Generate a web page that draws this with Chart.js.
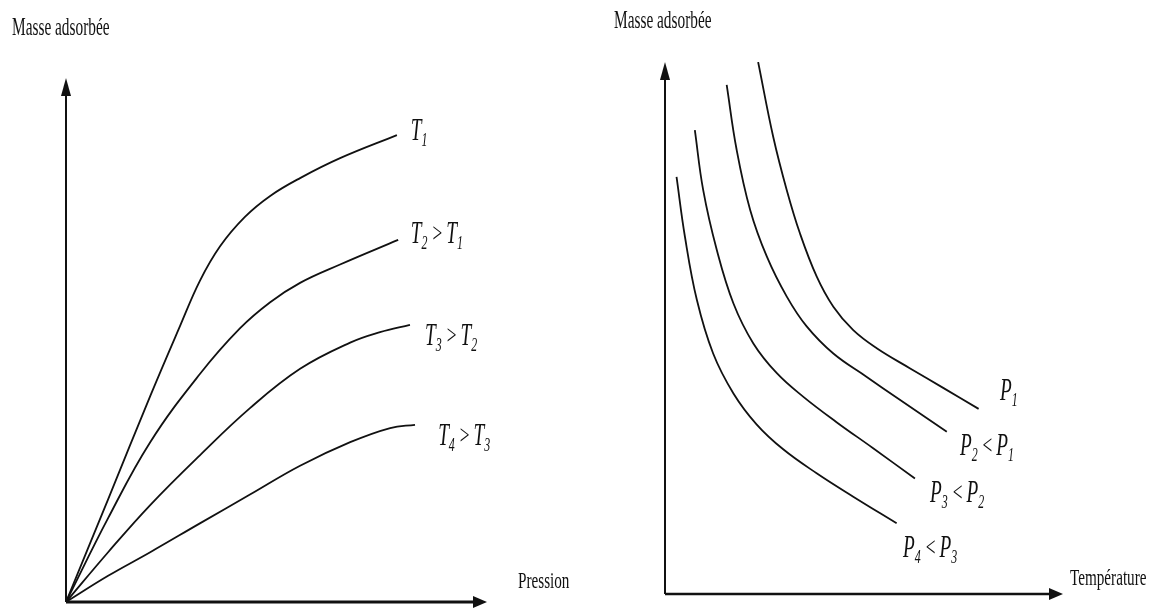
<!DOCTYPE html>
<html>
<head>
<meta charset="utf-8">
<script src="https://cdn.jsdelivr.net/npm/chart.js@4/dist/chart.umd.min.js"></script>
<style>
  body { margin: 0; background: #fff; }
  #wrap { position: relative; width: 1153px; height: 611px; overflow: hidden; }
  canvas { position: absolute; top: 0; }
  #isothermes { left: 0; }
  #isobares { left: 576px; }
</style>
</head>
<body>
<div id="wrap">
  <canvas id="isothermes" width="576" height="611"></canvas>
  <canvas id="isobares" width="577" height="611"></canvas>
</div>
<script>
// Isothermes : masse adsorbée en fonction de la pression (unités arbitraires 0-10)
const isoT1 = [[0, 0], [1.0, 1.96], [2.0, 3.93], [2.71, 5.27], [3.18, 6.13], [3.66, 6.79], [4.25, 7.35], [4.85, 7.75], [5.56, 8.09], [6.51, 8.47], [7.86, 8.91]];
const isoT2 = [[0, 0], [1.0, 1.6], [2.0, 3.05], [3.18, 4.35], [4.13, 5.22], [4.85, 5.72], [5.56, 6.09], [6.51, 6.44], [7.89, 6.91]];
const isoT3 = [[0, 0], [1.0, 0.95], [2.0, 1.85], [3.18, 2.8], [4.37, 3.7], [5.56, 4.45], [6.75, 4.95], [7.46, 5.15], [8.17, 5.29]];
const isoT4 = [[0, 0], [1.0, 0.5], [2.0, 0.95], [3.18, 1.5], [4.37, 2.05], [5.56, 2.6], [6.75, 3.05], [7.7, 3.32], [8.29, 3.38]];
const isothermLabels = ["T_1", "T_2 > T_1", "T_3 > T_2", "T_4 > T_3"];
const isothermAnchors = [[8.19, 8.82], [8.19, 6.85], [8.53, 4.9], [8.84, 3.0]];

// Isobares : masse adsorbée en fonction de la température
const isoP1 = [[2.34, 10.0], [2.72, 8.59], [3.06, 7.59], [3.39, 6.78], [3.81, 5.97], [4.23, 5.4], [4.73, 4.96], [5.32, 4.62], [6.16, 4.24], [7.0, 3.87], [7.88, 3.48]];
const isoP2 = [[1.55, 9.57], [1.8, 8.35], [2.14, 7.22], [2.56, 6.34], [3.06, 5.59], [3.56, 5.03], [4.23, 4.52], [5.07, 4.08], [5.9, 3.65], [7.08, 3.05]];
const isoP3 = [[0.75, 8.72], [0.96, 7.59], [1.3, 6.47], [1.72, 5.46], [2.22, 4.71], [2.81, 4.15], [3.47, 3.71], [4.31, 3.23], [5.23, 2.74], [6.28, 2.17]];
const isoP4 = [[0.29, 7.84], [0.5, 6.72], [0.8, 5.53], [1.21, 4.52], [1.72, 3.77], [2.3, 3.19], [2.97, 2.72], [3.81, 2.27], [4.73, 1.83], [5.82, 1.33]];
const isobarLabels = ["P_1", "P_2 < P_1", "P_3 < P_2", "P_4 < P_3"];
const isobarAnchors = [[8.42, 3.65], [7.41, 2.61], [6.66, 1.73], [5.98, 0.7]];

const SERIF = '"Liberation Serif", "DejaVu Serif", serif';
const INK = "#111";

function toPoints(arr) {
  return arr.map(([x, y]) => ({ x, y }));
}

// text squeezed horizontally, drawn from its left edge on the baseline
function drawNarrow(ctx, text, x, y, size, sx, italic) {
  ctx.save();
  ctx.translate(x, y);
  ctx.scale(sx, 1);
  ctx.font = (italic ? "italic " : "") + size + "px " + SERIF;
  ctx.fillStyle = INK;
  ctx.textBaseline = "alphabetic";
  ctx.fillText(text, 0, 0);
  const w = ctx.measureText(text).width * sx;
  ctx.restore();
  return w;
}

// "T_2 > T_1" -> italic letters with lowered subscripts
function drawSymbolLabel(ctx, label, x, y) {
  const size = 31, sx = 0.62;
  let cx = x;
  label.split(" ").forEach((tok, i) => {
    if (i > 0) cx += 4;
    if (tok.includes("_")) {
      const [main, sub] = tok.split("_");
      cx += drawNarrow(ctx, main, cx, y, size, sx, true);
      cx += drawNarrow(ctx, sub, cx, y + 6, size * 0.62, sx, true) + 1;
    } else {
      cx += drawNarrow(ctx, tok, cx, y - 1, size * 0.9, sx, false);
    }
  });
}

function arrowHead(ctx, x, y, dir) {
  ctx.beginPath();
  if (dir === "up") {
    ctx.moveTo(x, y);
    ctx.lineTo(x - 5, y + 18);
    ctx.lineTo(x + 5, y + 18);
  } else {
    ctx.moveTo(x, y);
    ctx.lineTo(x - 14, y - 6);
    ctx.lineTo(x - 14, y + 6);
  }
  ctx.closePath();
  ctx.fill();
}

const schemaPlugin = {
  id: "schema",
  afterDatasetsDraw(chart, args, opts) {
    const { ctx, chartArea: a, scales } = chart;
    ctx.save();
    ctx.strokeStyle = INK;
    ctx.fillStyle = INK;
    // vertical axis
    ctx.lineWidth = 2;
    ctx.beginPath();
    ctx.moveTo(a.left, a.bottom);
    ctx.lineTo(a.left, a.top + 10);
    ctx.stroke();
    arrowHead(ctx, a.left, a.top, "up");
    // horizontal axis
    ctx.lineWidth = opts.xWidth;
    ctx.beginPath();
    ctx.moveTo(a.left, a.bottom);
    ctx.lineTo(a.right - 8, a.bottom);
    ctx.stroke();
    arrowHead(ctx, a.right, a.bottom, "right");
    ctx.restore();

    drawNarrow(ctx, "Masse adsorbée", a.left + opts.yTitle[0], a.top + opts.yTitle[1], 26, 0.59, false);
    drawNarrow(ctx, opts.xTitle, a.right + opts.xTitlePos[0], a.bottom + opts.xTitlePos[1], 23, 0.66, false);

    opts.labels.forEach((lab, i) => {
      const [dx, dy] = opts.anchors[i];
      drawSymbolLabel(ctx, lab, scales.x.getPixelForValue(dx), scales.y.getPixelForValue(dy));
    });
  }
};

function curve(arr) {
  return {
    data: toPoints(arr),
    showLine: true,
    borderColor: INK,
    borderWidth: 1.8,
    pointRadius: 0,
    fill: false,
    tension: 0.4
  };
}

function makeChart(id, series, padding, schema) {
  return new Chart(document.getElementById(id), {
    type: "scatter",
    data: { datasets: series.map(curve) },
    options: {
      responsive: false,
      animation: false,
      devicePixelRatio: 1,
      layout: { padding },
      scales: {
        x: { type: "linear", min: 0, max: 10, display: false },
        y: { type: "linear", min: 0, max: 10, display: false }
      },
      plugins: {
        legend: { display: false },
        tooltip: { enabled: false },
        schema
      }
    },
    plugins: [schemaPlugin]
  });
}

makeChart("isothermes", [isoT1, isoT2, isoT3, isoT4],
  { left: 66, right: 89, top: 78, bottom: 9 },
  {
    xTitle: "Pression", xTitlePos: [31, -14], xWidth: 3,
    yTitle: [-54, -43],
    labels: isothermLabels, anchors: isothermAnchors
  });

makeChart("isobares", [isoP1, isoP2, isoP3, isoP4],
  { left: 89, right: 90, top: 62, bottom: 17 },
  {
    xTitle: "Température", xTitlePos: [7, -9], xWidth: 2.5,
    yTitle: [-51, -34],
    labels: isobarLabels, anchors: isobarAnchors
  });
</script>
</body>
</html>
